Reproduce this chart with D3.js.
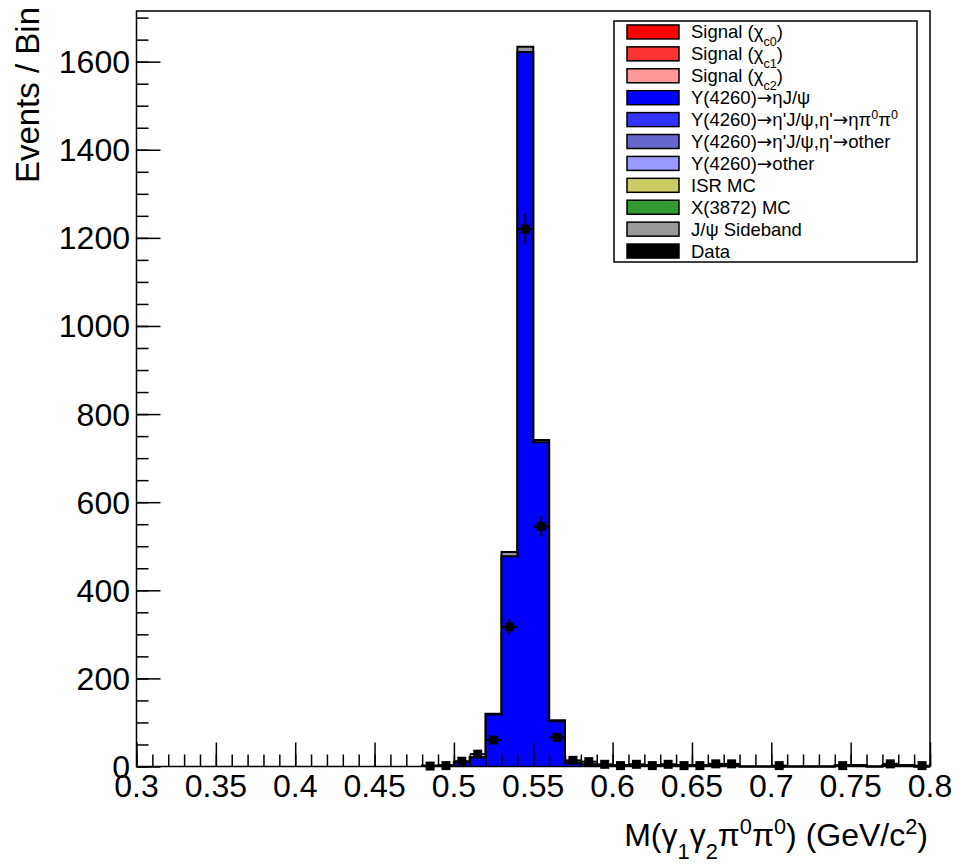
<!DOCTYPE html>
<html>
<head>
<meta charset="utf-8">
<script src="https://cdn.jsdelivr.net/npm/d3@7"></script>
<style>
  body { margin: 0; background: #fff; }
  svg { font-family: "Liberation Sans", Arial, Helvetica, sans-serif; }
  .arrow { font-family: "DejaVu Sans", sans-serif; }
</style>
</head>
<body>
<svg id="chart" width="961" height="865"></svg>
<script>
// Histogram bins (lower edges, width 0.01 GeV/c2)
const binLow = [0.48, 0.49, 0.50, 0.51, 0.52, 0.53, 0.54, 0.55, 0.56, 0.57,
                0.58, 0.59, 0.60, 0.61, 0.62, 0.63, 0.64, 0.65, 0.66, 0.67,
                0.68, 0.69, 0.70, 0.71, 0.72, 0.73, 0.74, 0.75, 0.76, 0.77,
                0.78, 0.79];
const binWidth = 0.01;

// Stacked MC components (Events / Bin)
const etaJpsi  = [1.5, 2, 10, 21, 118, 477, 1622, 736, 103, 9,
                  5, 3, 3, 3, 3, 3, 3, 3, 3, 3,
                  0, 0, 0, 0, 0, 0, 3, 3, 0, 3,
                  3, 0];
const sideband = [0, 0, 0, 0, 2, 10, 12, 5, 2, 0,
                  0, 0, 0, 0, 0, 0, 0, 0, 0, 0,
                  0, 0, 0, 0, 0, 0, 0, 0, 0, 0,
                  0, 0];

// Data points
const dataMass   = [0.485, 0.495, 0.505, 0.515, 0.525, 0.535, 0.545, 0.555,
                    0.565, 0.575, 0.585, 0.595, 0.605, 0.615, 0.625, 0.635,
                    0.645, 0.655, 0.665, 0.675, 0.705, 0.745, 0.775, 0.795];
const dataCounts = [1, 2, 12, 28, 60, 317, 1220, 545,
                    66, 14, 11, 5, 2, 5, 2, 5,
                    2, 2, 6, 6, 2, 2, 6, 2];

// Axis ticks
const xMajor = [0.3, 0.35, 0.4, 0.45, 0.5, 0.55, 0.6, 0.65, 0.7, 0.75, 0.8];
const xLabels = ["0.3", "0.35", "0.4", "0.45", "0.5", "0.55", "0.6", "0.65", "0.7", "0.75", "0.8"];
const yMajor = [0, 200, 400, 600, 800, 1000, 1200, 1400, 1600];

// Legend entries: label segments and fill colours
const legendLabels = [
  [["Signal (χ"], ["c0", "sub"], [")"]],
  [["Signal (χ"], ["c1", "sub"], [")"]],
  [["Signal (χ"], ["c2", "sub"], [")"]],
  [["Y(4260)"], ["→", "arr"], ["ηJ/ψ"]],
  [["Y(4260)"], ["→", "arr"], ["η'J/ψ,η'"], ["→", "arr"], ["ηπ"], ["0", "sup"], ["π"], ["0", "sup"]],
  [["Y(4260)"], ["→", "arr"], ["η'J/ψ,η'"], ["→", "arr"], ["other"]],
  [["Y(4260)"], ["→", "arr"], ["other"]],
  [["ISR MC"]],
  [["X(3872) MC"]],
  [["J/ψ Sideband"]],
  [["Data"]]
];
const legendColors = ["#ff0000", "#ff3333", "#ff9999", "#0000ff", "#3333ff",
                      "#6666cc", "#9999ff", "#cccc66", "#339933", "#999999", "#000000"];

const svg = d3.select("#chart");
const plot = { left: 136.5, right: 930, top: 11, bottom: 766.5 };

const x = d3.scaleLinear().domain([0.3, 0.8]).range([plot.left, plot.right]);
const y = d3.scaleLinear().domain([0, 1715]).range([plot.bottom, plot.top]);

// helper for text with sub/superscripts
function richText(sel, segs, size) {
  let shift = 0;
  segs.forEach(([t, kind]) => {
    const target = kind === "sub" ? size * 0.42 : kind === "sup" ? -size * 0.36 : 0;
    const small = kind === "sub" || kind === "sup";
    const ts = sel.append("tspan")
      .attr("dy", target - shift)
      .attr("font-size", small ? size * 0.68 : size)
      .text(t);
    if (kind === "arr") ts.attr("class", "arrow");
    shift = target;
  });
}

// Build stacked layers (bottom to top)
const layers = [
  { values: etaJpsi, color: "#0000ff" },
  { values: sideband, color: "#999999" }
];
let cum = binLow.map(() => 0);
layers.forEach(l => {
  cum = cum.map((c, i) => c + l.values[i]);
  l.top = cum.slice();
});

const stepArea = d3.area()
  .curve(d3.curveStepAfter)
  .x(d => x(d[0]))
  .y0(y(0))
  .y1(d => y(d[1]));
const stepLine = d3.line()
  .curve(d3.curveStepAfter)
  .x(d => x(d[0]))
  .y(d => y(d[1]));

const gHist = svg.append("g");
// draw the tallest (full stack) first, like THStack
layers.slice().reverse().forEach(l => {
  const pts = binLow.map((b, i) => [b, l.top[i]]);
  pts.push([binLow[binLow.length - 1] + binWidth, l.top[l.top.length - 1]]);
  const outline = [[binLow[0], 0]].concat(pts, [[pts[pts.length - 1][0], 0]]);
  gHist.append("path")
    .attr("d", stepArea(pts))
    .attr("fill", l.color);
  gHist.append("path")
    .attr("d", stepLine(outline))
    .attr("fill", "none")
    .attr("stroke", "#000")
    .attr("stroke-width", 2);
});

// Data points with errors
const gData = svg.append("g");
dataMass.forEach((m, i) => {
  const n = dataCounts[i];
  const err = Math.sqrt(n);
  const cx = x(m), cy = y(n);
  gData.append("line")
    .attr("x1", cx).attr("x2", cx)
    .attr("y1", y(n + err)).attr("y2", y(Math.max(0, n - err)))
    .attr("stroke", "#000").attr("stroke-width", 2);
  gData.append("line")
    .attr("x1", x(m - binWidth / 2)).attr("x2", x(m + binWidth / 2))
    .attr("y1", cy).attr("y2", cy)
    .attr("stroke", "#000").attr("stroke-width", 2);
  gData.append("rect")
    .attr("x", cx - 4.5).attr("y", cy - 4.5)
    .attr("width", 9).attr("height", 9)
    .attr("fill", "#000");
});

// Frame
svg.append("rect")
  .attr("x", plot.left).attr("y", plot.top)
  .attr("width", plot.right - plot.left)
  .attr("height", plot.bottom - plot.top)
  .attr("fill", "none")
  .attr("stroke", "#000")
  .attr("stroke-width", 1.5);

// X axis (ticks drawn inward)
const xMinor = d3.range(0, 51).map(i => 0.3 + i * 0.01);
svg.append("g")
  .attr("transform", `translate(0,${plot.bottom})`)
  .call(d3.axisTop(x).tickValues(xMinor).tickSize(12).tickFormat(""))
  .call(g => g.select(".domain").remove())
  .call(g => g.selectAll("line").attr("stroke-width", 1.5));
svg.append("g")
  .attr("transform", `translate(0,${plot.bottom})`)
  .call(d3.axisTop(x).tickValues(xMajor).tickSize(24).tickFormat(""))
  .call(g => g.select(".domain").remove())
  .call(g => g.selectAll("line").attr("stroke-width", 1.5));
svg.append("g")
  .selectAll("text")
  .data(xMajor)
  .join("text")
  .attr("x", d => x(d))
  .attr("y", 797)
  .attr("text-anchor", "middle")
  .attr("font-size", 32)
  .text((d, i) => xLabels[i]);

// Y axis
const yMinor = d3.range(0, 35).map(i => i * 50).filter(v => v <= 1715);
svg.append("g")
  .attr("transform", `translate(${plot.left},0)`)
  .call(d3.axisRight(y).tickValues(yMinor).tickSize(12).tickFormat(""))
  .call(g => g.select(".domain").remove())
  .call(g => g.selectAll("line").attr("stroke-width", 1.5));
svg.append("g")
  .attr("transform", `translate(${plot.left},0)`)
  .call(d3.axisRight(y).tickValues(yMajor).tickSize(24).tickFormat(""))
  .call(g => g.select(".domain").remove())
  .call(g => g.selectAll("line").attr("stroke-width", 1.5));
svg.append("g")
  .selectAll("text")
  .data(yMajor)
  .join("text")
  .attr("x", 130)
  .attr("y", d => y(d) + 11.5)
  .attr("text-anchor", "end")
  .attr("font-size", 32)
  .text(d => d);

// Axis titles
svg.append("text")
  .attr("transform", "translate(39,7) rotate(-90)")
  .attr("text-anchor", "end")
  .attr("font-size", 33)
  .text("Events / Bin");

const xt = svg.append("text")
  .attr("x", 928)
  .attr("y", 846)
  .attr("text-anchor", "end");
richText(xt, [["M(γ"], ["1", "sub"], ["γ"], ["2", "sub"], ["π"], ["0", "sup"], ["π"], ["0", "sup"],
  [") (GeV/c"], ["2", "sup"], [")"]], 32);

// Legend
const leg = { x: 614, y: 21, w: 303, h: 241 };
const gLeg = svg.append("g");
gLeg.append("rect")
  .attr("x", leg.x).attr("y", leg.y)
  .attr("width", leg.w).attr("height", leg.h)
  .attr("fill", "#fff")
  .attr("stroke", "#000")
  .attr("stroke-width", 1.5);
const rowH = leg.h / legendLabels.length;
legendLabels.forEach((segs, i) => {
  const cy = leg.y + rowH * (i + 0.5);
  gLeg.append("rect")
    .attr("x", 627).attr("y", cy - 7)
    .attr("width", 52).attr("height", 14)
    .attr("fill", legendColors[i])
    .attr("stroke", "#000")
    .attr("stroke-width", 1.5);
  const t = gLeg.append("text")
    .attr("x", 691)
    .attr("y", cy + 6.5);
  richText(t, segs, 18.5);
});
</script>
</body>
</html>
